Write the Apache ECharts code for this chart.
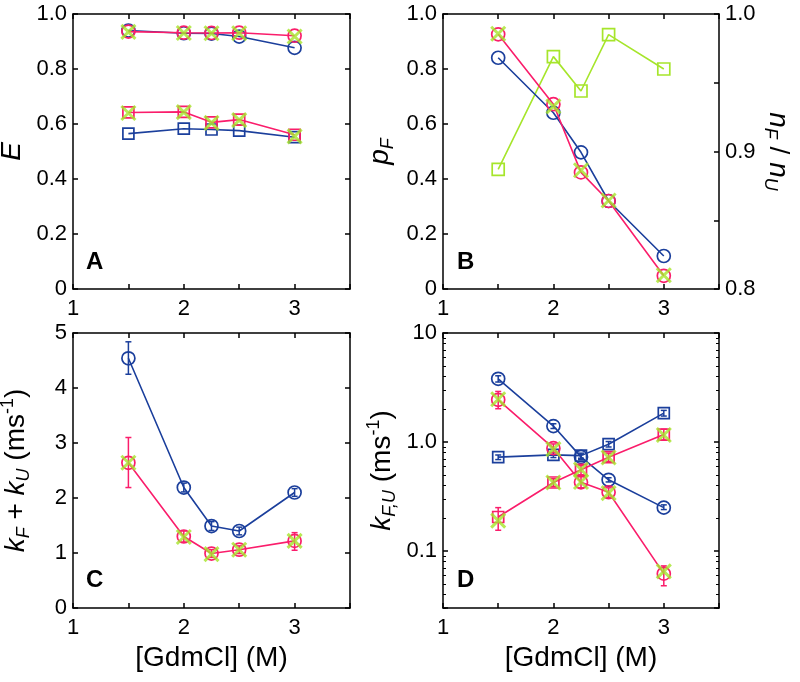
<!DOCTYPE html>
<html><head><meta charset="utf-8">
<script src="https://cdn.jsdelivr.net/npm/echarts@6/dist/echarts.min.js"></script>
<style>html,body{margin:0;padding:0;background:#fff}#c{width:800px;height:682px}</style>
</head><body><div id="c"></div>
<script>
// ---------- data ----------
const xVals = [1.5, 2, 2.25, 2.5, 3];
const xTickLabels = [1, 2, 3];
const yTickLabelsE = [0, 0.2, 0.4, 0.6, 0.8, 1.0];
const yTickLabelsRatio = [0.8, 0.9, 1.0];
const yTickLabelsC = [0, 1, 2, 3, 4, 5];
const yTickLabelsD = [0.1, 1, 10];

// Panel A : E
const A_blueCircle   = [0.940, 0.930, 0.929, 0.918, 0.877];
const A_pinkCircle   = [0.936, 0.932, 0.931, 0.932, 0.921];
const A_greenXCircle = [0.935, 0.931, 0.930, 0.930, 0.918];
const A_blueSquare   = [0.565, 0.583, 0.580, 0.576, 0.552];
const A_pinkSquare   = [0.642, 0.644, 0.606, 0.616, 0.561];
const A_greenXSquare = [0.640, 0.643, 0.604, 0.614, 0.555];

// Panel B : pF and nF/nU
const B_blueCircle   = [0.841, 0.641, 0.497, 0.320, 0.120];
const B_pinkCircle   = [0.926, 0.672, 0.424, 0.320, 0.048];
const B_greenX       = [0.928, 0.664, 0.432, 0.322, 0.050];
const B_greenSquare  = [0.887, 0.969, 0.944, 0.985, 0.960];

// Panel C : kF + kU
const C_blueCircle   = [4.54, 2.19, 1.49, 1.40, 2.10];
const C_blueLow      = [4.25, 2.11, 1.41, 1.33, 2.03];
const C_blueHigh     = [4.84, 2.27, 1.57, 1.47, 2.17];
const C_pinkCircle   = [2.64, 1.30, 0.99, 1.06, 1.22];
const C_pinkLow      = [2.19, 1.20, 0.92, 0.99, 1.05];
const C_pinkHigh     = [3.10, 1.40, 1.06, 1.13, 1.37];
const C_greenX       = [2.64, 1.29, 0.98, 1.06, 1.22];

// Panel D : kF, kU (log)
const D_blueCircle     = [3.80, 1.40, 0.73, 0.45, 0.25];
const D_blueCircleLow  = [3.55, 1.33, 0.69, 0.43, 0.24];
const D_blueCircleHigh = [4.05, 1.47, 0.77, 0.47, 0.265];
const D_blueSquare     = [0.726, 0.762, 0.750, 0.955, 1.84];
const D_blueSquareLow  = [0.69, 0.72, 0.71, 0.90, 1.73];
const D_blueSquareHigh = [0.76, 0.80, 0.79, 1.01, 1.95];
const D_pinkCircle     = [2.44, 0.877, 0.427, 0.346, 0.062];
const D_pinkCircleLow  = [2.02, 0.80, 0.38, 0.31, 0.048];
const D_pinkCircleHigh = [2.91, 0.96, 0.48, 0.38, 0.073];
const D_pinkSquare     = [0.205, 0.425, 0.556, 0.726, 1.17];
const D_pinkSquareLow  = [0.155, 0.39, 0.50, 0.66, 1.04];
const D_pinkSquareHigh = [0.25, 0.46, 0.61, 0.79, 1.31];
const D_greenXCircle   = [2.47, 0.86, 0.43, 0.34, 0.065];
const D_greenXSquare   = [0.19, 0.425, 0.56, 0.72, 1.16];

// ---------- styles ----------
const BLUE = '#1b3f9c', PINK = '#fa1d6b', GREEN = '#a6e52b';
const FONT = '"Liberation Sans", Arial, Helvetica, sans-serif';
const XPATH = 'path://M0,0L10,10M10,0L0,10';

function pts(ys) { return xVals.map((x, i) => [x, ys[i]]); }
function errPts(lo, hi) { return xVals.map((x, i) => [x, lo[i], hi[i]]); }
function near(v, list) { return list.some(t => Math.abs(v - t) < 1e-6 * Math.max(1, Math.abs(t))); }

const axisLineStyle = { color: '#000', width: 1.5 };
function xAxis(grid, bottom, name) {
  return {
    type: 'value', gridIndex: grid, min: 1, max: 3.5, interval: 0.5,
    position: bottom ? 'bottom' : 'top',
    axisLine: { show: true, onZero: false, lineStyle: axisLineStyle },
    axisTick: { show: true, inside: true, length: 5, lineStyle: axisLineStyle },
    axisLabel: { show: bottom, fontSize: 22, color: '#000', margin: 9, fontFamily: FONT,
      formatter: v => near(v, xTickLabels) ? String(Math.round(v)) : '' },
    splitLine: { show: false },
    name: name || '', nameLocation: 'middle', nameGap: 36,
    nameTextStyle: { fontSize: 28, color: '#000', fontFamily: FONT }
  };
}
function yAxis(grid, left, opts) {
  const o = Object.assign({
    type: 'value', gridIndex: grid, position: left ? 'left' : 'right',
    axisLine: { show: true, onZero: false, lineStyle: axisLineStyle },
    axisTick: { show: true, inside: true, length: 5, lineStyle: axisLineStyle },
    splitLine: { show: false },
    axisLabel: { show: false }
  }, opts);
  return o;
}
function labelStyle(fmt) {
  return { show: true, fontSize: 22, color: '#000', margin: 6, fontFamily: FONT, formatter: fmt };
}
const richName = {
  i: { fontSize: 28, fontStyle: 'italic', fontFamily: FONT, color: '#000', lineHeight: 34 },
  n: { fontSize: 28, fontFamily: FONT, color: '#000', lineHeight: 34 },
  sub: { fontSize: 18, fontStyle: 'italic', fontFamily: FONT, color: '#000', lineHeight: 20, verticalAlign: 'bottom' },
  sup: { fontSize: 18, fontFamily: FONT, color: '#000', lineHeight: 20, verticalAlign: 'top' }
};
function nameStyle() { return { rich: richName, fontSize: 28, fontFamily: FONT, color: '#000' }; }

function lineSer(ys, color, symbol, size, xi, yi, z) {
  return { type: 'line', data: pts(ys), xAxisIndex: xi, yAxisIndex: yi, symbol: symbol, symbolSize: size,
    showSymbol: true, animation: false, z: z || 2,
    lineStyle: { color: color, width: 1.6 },
    itemStyle: { color: 'rgba(0,0,0,0)', borderColor: color, borderWidth: 1.7 },
    emphasis: { disabled: true } };
}
function xSer(ys, xi, yi) {
  return { type: 'scatter', data: pts(ys), xAxisIndex: xi, yAxisIndex: yi, symbol: XPATH, symbolSize: 14,
    animation: false, z: 5,
    itemStyle: { color: 'rgba(0,0,0,0)', borderColor: GREEN, borderWidth: 3 },
    emphasis: { disabled: true } };
}
function errSer(lo, hi, color, xi, yi) {
  return { type: 'custom', data: errPts(lo, hi), xAxisIndex: xi, yAxisIndex: yi, animation: false, z: 3,
    encode: { x: 0, y: [1, 2] },
    renderItem: function (params, api) {
      const x = api.value(0), a = api.coord([x, api.value(1)]), b = api.coord([x, api.value(2)]);
      const w = 3, st = { stroke: color, lineWidth: 1.5 };
      return { type: 'group', children: [
        { type: 'line', shape: { x1: a[0], y1: a[1], x2: b[0], y2: b[1] }, style: st },
        { type: 'line', shape: { x1: a[0] - w, y1: a[1], x2: a[0] + w, y2: a[1] }, style: st },
        { type: 'line', shape: { x1: b[0] - w, y1: b[1], x2: b[0] + w, y2: b[1] }, style: st }
      ]};
    } };
}

const fmt1 = v => near(v, [0]) ? '0' : v.toFixed(1);
const logFmt = v => near(v, [0.1]) ? '0.1' : near(v, [1]) ? '1.0' : near(v, [10]) ? '10' : '';
const kName = '{i|k}{sub|F}{n| + }{i|k}{sub|U}{n| (ms}{sup|-1}{n|)}';
const gdm = '[GdmCl] (M)';

const option = {
  backgroundColor: '#fff',
  animation: false,
  title: [
    { text: 'A', left: 86, top: 250 },
    { text: 'B', left: 457, top: 250 },
    { text: 'C', left: 86, top: 568 },
    { text: 'D', left: 457, top: 568 }
  ].map(t => Object.assign(t, { padding: 0, textStyle: { fontSize: 24, fontWeight: 'bold', color: '#000', fontFamily: FONT } })),
  grid: [
    { left: 73, top: 14, width: 277, height: 275, outerBoundsMode: 'none' },
    { left: 443, top: 14, width: 276, height: 275, outerBoundsMode: 'none' },
    { left: 73, top: 333, width: 277, height: 275, outerBoundsMode: 'none' },
    { left: 443, top: 333, width: 276, height: 275, outerBoundsMode: 'none' }
  ],
  xAxis: [
    xAxis(0, true), xAxis(0, false),
    xAxis(1, true), xAxis(1, false),
    xAxis(2, true, gdm), xAxis(2, false),
    xAxis(3, true, gdm), xAxis(3, false)
  ],
  yAxis: [
    yAxis(0, true, { min: 0, max: 1, interval: 0.2, axisLabel: labelStyle(v => near(v, yTickLabelsE) ? fmt1(v) : ''),
      name: '{i|E}', nameLocation: 'middle', nameGap: 44, nameTextStyle: nameStyle() }),
    yAxis(0, false, { min: 0, max: 1, interval: 0.2 }),
    yAxis(1, true, { min: 0, max: 1, interval: 0.2, axisLabel: labelStyle(v => near(v, yTickLabelsE) ? fmt1(v) : ''),
      name: '{i|p}{sub|F}', nameLocation: 'middle', nameGap: 46, nameTextStyle: nameStyle() }),
    yAxis(1, false, { min: 0.8, max: 1.0, interval: 0.05, axisLabel: labelStyle(v => near(v, yTickLabelsRatio) ? v.toFixed(1) : ''),
      name: '{i|n}{sub|F}{n| / }{i|n}{sub|U}', nameLocation: 'middle', nameGap: 42, nameRotate: -90, nameTextStyle: nameStyle() }),
    yAxis(2, true, { min: 0, max: 5, interval: 1, axisLabel: labelStyle(v => near(v, yTickLabelsC) ? String(Math.round(v)) : ''),
      name: kName, nameLocation: 'middle', nameGap: 40, nameTextStyle: nameStyle() }),
    yAxis(2, false, { min: 0, max: 5, interval: 1 }),
    yAxis(3, true, { type: 'log', logBase: 10, min: 0.03, max: 10,
      axisLabel: labelStyle(v => near(v, yTickLabelsD) ? logFmt(v) : ''),
      minorTick: { show: true, splitNumber: 9, length: 3, lineStyle: { color: '#000', width: 1 } },
      name: '{i|k}{sub|F,U}{n| (ms}{sup|-1}{n|)}', nameLocation: 'middle', nameGap: 44, nameTextStyle: nameStyle() }),
    yAxis(3, false, { type: 'log', logBase: 10, min: 0.03, max: 10,
      minorTick: { show: true, splitNumber: 9, length: 3, lineStyle: { color: '#000', width: 1 } } })
  ],
  series: [
    // A
    lineSer(A_blueCircle, BLUE, 'circle', 13, 0, 0),
    lineSer(A_blueSquare, BLUE, 'rect', 11, 0, 0),
    lineSer(A_pinkCircle, PINK, 'circle', 13, 0, 0, 3),
    lineSer(A_pinkSquare, PINK, 'rect', 11, 0, 0, 3),
    xSer(A_greenXCircle, 0, 0),
    xSer(A_greenXSquare, 0, 0),
    // B
    lineSer(B_greenSquare, GREEN, 'rect', 12, 2, 3),
    lineSer(B_blueCircle, BLUE, 'circle', 13, 2, 2),
    lineSer(B_pinkCircle, PINK, 'circle', 13, 2, 2, 3),
    xSer(B_greenX, 2, 2),
    // C
    errSer(C_blueLow, C_blueHigh, BLUE, 4, 4),
    lineSer(C_blueCircle, BLUE, 'circle', 13, 4, 4),
    errSer(C_pinkLow, C_pinkHigh, PINK, 4, 4),
    lineSer(C_pinkCircle, PINK, 'circle', 13, 4, 4, 3),
    xSer(C_greenX, 4, 4),
    // D
    errSer(D_blueCircleLow, D_blueCircleHigh, BLUE, 6, 6),
    errSer(D_blueSquareLow, D_blueSquareHigh, BLUE, 6, 6),
    lineSer(D_blueCircle, BLUE, 'circle', 13, 6, 6),
    lineSer(D_blueSquare, BLUE, 'rect', 11, 6, 6),
    errSer(D_pinkCircleLow, D_pinkCircleHigh, PINK, 6, 6),
    errSer(D_pinkSquareLow, D_pinkSquareHigh, PINK, 6, 6),
    lineSer(D_pinkCircle, PINK, 'circle', 13, 6, 6, 3),
    lineSer(D_pinkSquare, PINK, 'rect', 11, 6, 6, 3),
    xSer(D_greenXCircle, 6, 6),
    xSer(D_greenXSquare, 6, 6)
  ]
};
const chart = echarts.init(document.getElementById('c'), null, { renderer: 'canvas' });
chart.setOption(option);
</script>
</body></html>
